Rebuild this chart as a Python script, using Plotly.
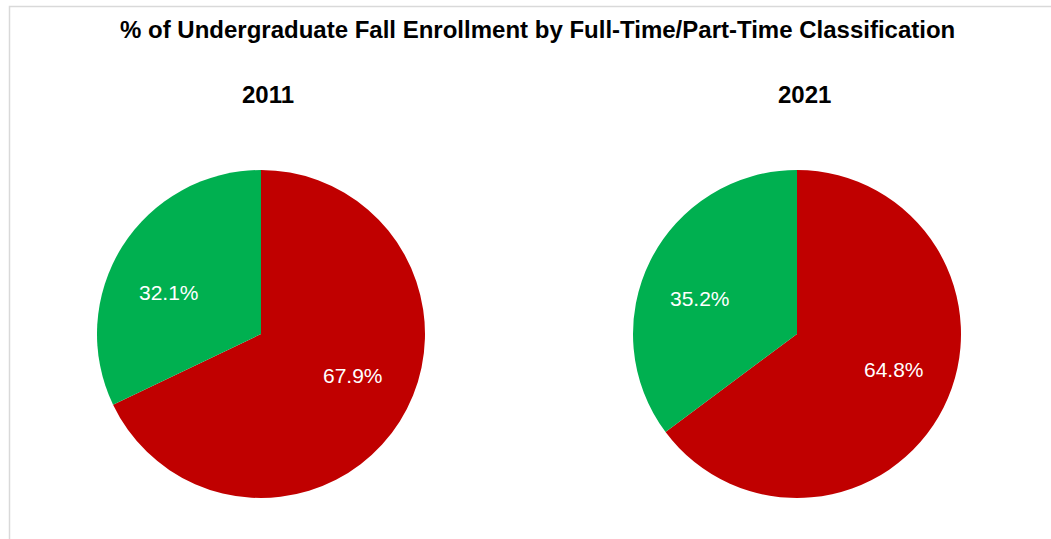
import math
import plotly.graph_objects as go

# данные
years = ["2011", "2021"]
categories = ["Full-Time", "Part-Time"]
full_time = [67.9, 64.8]
part_time = [32.1, 35.2]
colors = ["#C00000", "#00B050"]

W, H = 1051, 539
FONT = "Liberation Sans, Arial"

fig = go.Figure()

# центры и радиус пирогов в пикселях
centers = [261, 797]
cy, r = 334, 164

for i, yr in enumerate(years):
    cx = centers[i]
    vals = [full_time[i], part_time[i]]
    fig.add_trace(go.Pie(
        labels=categories,
        values=vals,
        marker=dict(colors=colors),
        sort=False,
        direction="clockwise",
        rotation=0,
        textinfo="none",
        hoverinfo="label+percent",
        showlegend=False,
        domain=dict(x=[(cx - r) / W, (cx + r) / W],
                    y=[(H - cy - r) / H, (H - cy + r) / H]),
    ))
    # подписи долей — по середине угла сектора
    total = sum(vals)
    start = 0.0
    for v in vals:
        mid = 2 * math.pi * (start + v / 2) / total
        start += v
        lx = cx + 0.66 * r * math.sin(mid)
        ly = cy - 0.48 * r * math.cos(mid)
        fig.add_annotation(text=f"{v:.1f}%", x=lx / W, y=1 - ly / H,
                           xref="paper", yref="paper", showarrow=False,
                           xanchor="center", yanchor="middle",
                           font=dict(size=21, color="white", family=FONT))
    # подзаголовок года
    fig.add_annotation(text=f"<b>{yr}</b>", x=(cx + 7) / W, y=1 - 95 / H,
                       xref="paper", yref="paper", showarrow=False,
                       xanchor="center", yanchor="middle",
                       font=dict(size=24, color="black", family=FONT))

# общий заголовок
fig.add_annotation(text="<b>% of Undergraduate Fall Enrollment by Full-Time/Part-Time Classification</b>",
                   x=537 / W, y=1 - 29 / H, xref="paper", yref="paper", showarrow=False,
                   xanchor="center", yanchor="middle",
                   font=dict(size=24, color="black", family=FONT))

# рамка области диаграммы
fig.add_shape(type="rect", xref="paper", yref="paper",
              x0=9.5 / W, x1=1.05, y0=-0.05, y1=1 - 6.5 / H,
              line=dict(color="#D9D9D9", width=1.5), fillcolor="rgba(0,0,0,0)")

fig.update_layout(width=W, height=H, margin=dict(l=0, r=0, t=0, b=0),
                  paper_bgcolor="white", plot_bgcolor="white",
                  font=dict(family=FONT))

# убираем стандартный отступ body, чтобы фигура встала в угол окна
fig.write_html("out.html", config={"displayModeBar": False},
               post_script="document.body.style.margin='0';")
